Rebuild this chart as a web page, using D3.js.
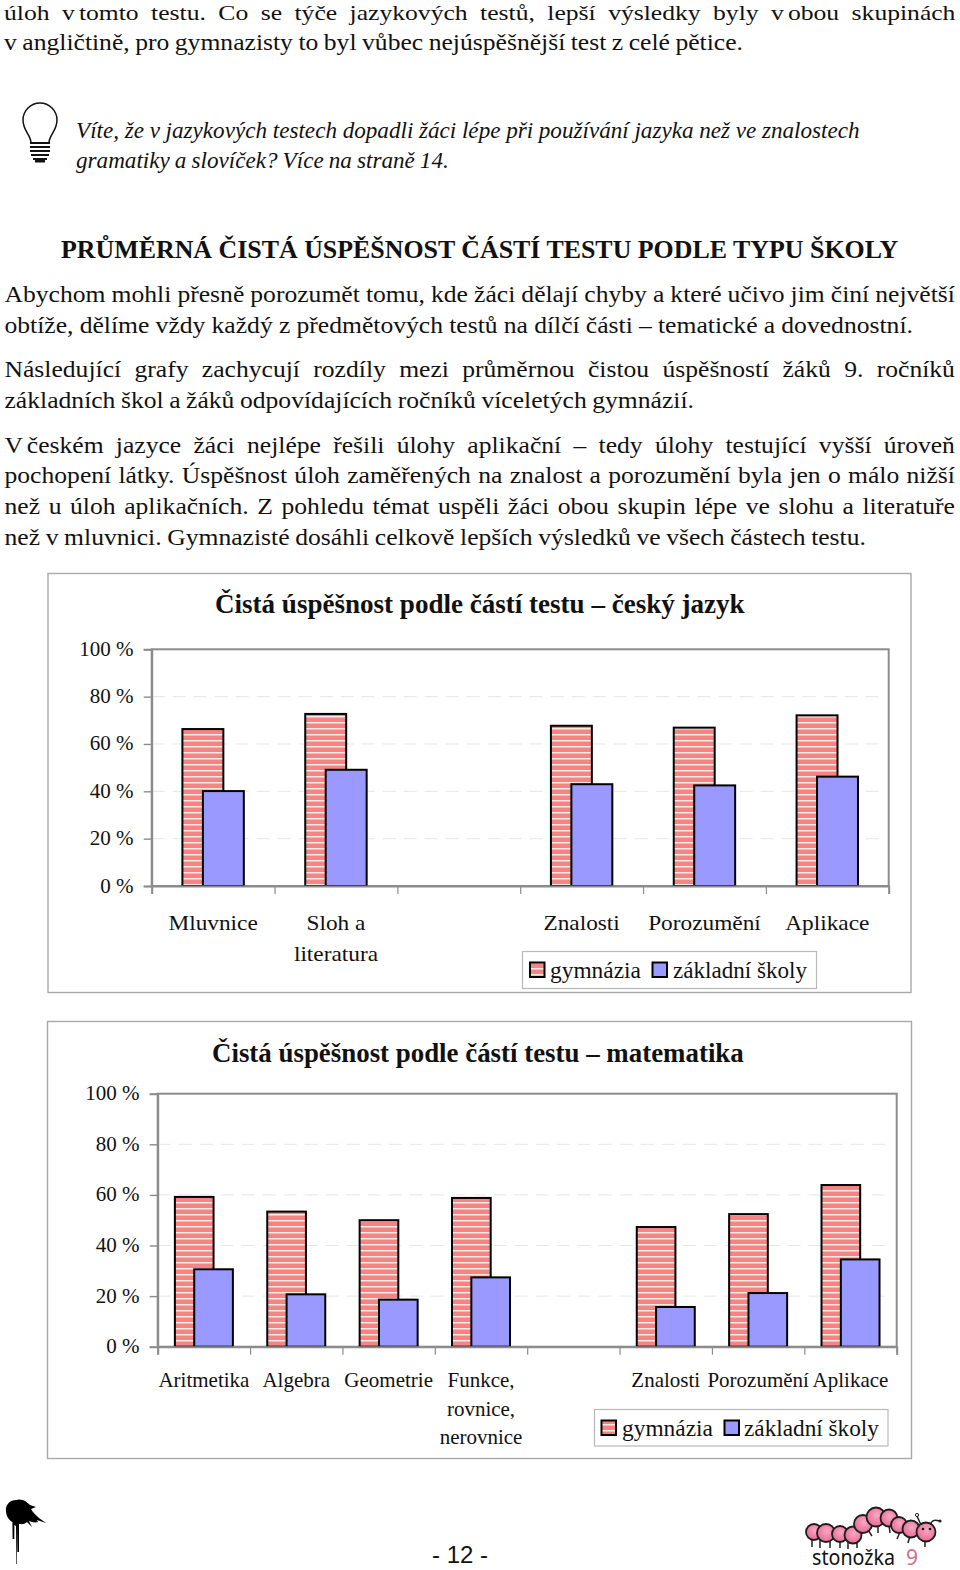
<!DOCTYPE html>
<html><head><meta charset="utf-8">
<script src="https://cdn.jsdelivr.net/npm/d3@7"></script>
<style>html,body{margin:0;padding:0;background:#fff}svg{display:block}text{fill:#111}</style>
</head><body><div id="chart"></div>
<script>
// ---- data ----
const seriesNames = ["gymnázia", "základní školy"];
const yTicks = [0, 20, 40, 60, 80, 100];

const czCategories = ["Mluvnice", "Sloh a\nliteratura", "", "Znalosti", "Porozumění", "Aplikace"];
const czGymnazia   = [66.3, 72.7, null, 67.7, 66.9, 72.1];
const czZakladni   = [40.1, 49.1, null, 43.0, 42.5, 46.2];
const czTitle = "Čistá úspěšnost podle částí testu – český jazyk";

const maCategories = ["Aritmetika", "Algebra", "Geometrie", "Funkce,\nrovnice,\nnerovnice", "", "Znalosti", "Porozumění", "Aplikace"];
const maGymnazia   = [59.2, 53.4, 50.0, 58.8, null, 47.3, 52.4, 63.9];
const maZakladni   = [30.6, 20.7, 18.6, 27.4, null, 15.7, 21.2, 34.5];
const maTitle = "Čistá úspěšnost podle částí testu – matematika";

const bodyLines = [
 "úloh v tomto testu. Co se týče jazykových testů, lepší výsledky byly v obou skupinách",
 "v angličtině, pro gymnazisty to byl vůbec nejúspěšnější test z celé pětice.",
 "Abychom mohli přesně porozumět tomu, kde žáci dělají chyby a které učivo jim činí největší",
 "obtíže, dělíme vždy každý z předmětových testů na dílčí části – tematické a dovednostní.",
 "Následující grafy zachycují rozdíly mezi průměrnou čistou úspěšností žáků 9. ročníků",
 "základních škol a žáků odpovídajících ročníků víceletých gymnázií.",
 "V českém jazyce žáci nejlépe řešili úlohy aplikační – tedy úlohy testující vyšší úroveň",
 "pochopení látky. Úspěšnost úloh zaměřených na znalost a porozumění byla jen o málo nižší",
 "než u úloh aplikačních. Z pohledu témat uspěli žáci obou skupin lépe ve slohu a literatuře",
 "než v mluvnici. Gymnazisté dosáhli celkově lepších výsledků ve všech částech testu."
];
const calloutLines = [
 "Víte, že v jazykových testech dopadli žáci lépe při používání jazyka než ve znalostech",
 "gramatiky a slovíček? Více na straně 14."
];
const headingText = "PRŮMĚRNÁ ČISTÁ ÚSPĚŠNOST ČÁSTÍ TESTU PODLE TYPU ŠKOLY";

// ---- layout (not data) ----
const bodyLayout = [[4,956,19.6,22],[4,743,50,23.5],[4.5,955,302,23.5],[4.5,913,333,23.5],[4.5,955,377,23.5],[4.5,694,408,23.5],[4.5,955,452.5,23.5],[4.5,955,483,23.5],[4.5,955,514,23.5],[4.5,866,545,23.5]];
const calloutLayout = [[76,860,137.5],[76,449,168]];
const SERIF = "'Liberation Serif',serif";

const svg = d3.select("#chart").append("svg").attr("width",960).attr("height",1570).attr("viewBox","0 0 960 1570");
const defs = svg.append("defs");
const pat = defs.append("pattern").attr("id","stripes").attr("patternUnits","userSpaceOnUse").attr("width",8).attr("height",6);
pat.append("rect").attr("width",8).attr("height",6).attr("fill","#f58585");
pat.append("rect").attr("y",2).attr("width",8).attr("height",1.5).attr("fill","#fde8e6");
const grad = defs.append("radialGradient").attr("id","seg").attr("cx","0.55").attr("cy","0.4").attr("r","0.7");
grad.append("stop").attr("offset","0").attr("stop-color","#f9a8c2");
grad.append("stop").attr("offset","1").attr("stop-color","#e4608f");

// Draws one line of text fitted between x0 and x1.
// With a fixed sx the remaining room goes to the word gaps (justified); the one-letter
// preposition "v" stays tight to its word on lines with wide gaps. Without sx the glyphs stretch.
function fit(g, str, x0, x1, y, size, opts={}){
  const t = g.append("text").attr("font-family",opts.family||SERIF).attr("font-size",size)
    .attr("font-weight",opts.weight||400).attr("font-style",opts.style||"normal").attr("xml:space","preserve");
  if(opts.fill) t.style("fill",opts.fill);
  t.text(str);
  let sx;
  if(opts.sx){
    sx = opts.sx;
    const w0 = t.node().getComputedTextLength();
    const gaps0 = str.split(" ").length-1;
    const ws0 = gaps0 ? ((x1-x0)/sx - w0)/gaps0 : 0;
    if(ws0 > 3 && /(^|\s)[vV] /.test(str)){
      t.text(null);
      const parts = str.split(/(?<=^|\s)([vV] )/).filter(s=>s.length);
      parts.forEach(p=>{
        const sp = t.append("tspan").text(p);
        if(/^[vV] $/.test(p)) sp.attr("word-spacing",-2).attr("class","tight");
      });
      const w = t.node().getComputedTextLength();
      const gaps = gaps0 - t.selectAll("tspan.tight").size();
      const ws = ((x1-x0)/sx - w)/gaps;
      t.selectAll("tspan").filter(function(){return !this.classList.contains("tight");}).attr("word-spacing",ws);
    } else if(gaps0){
      t.attr("word-spacing",ws0);
    }
  } else {
    sx = (x1-x0)/t.node().getComputedTextLength();
  }
  t.attr("transform",`translate(${x0},${y}) scale(${sx},1)`);
  return t;
}

// prose
const prose = svg.append("g");
bodyLines.forEach((s,i)=>{const [a,b,y,sz]=bodyLayout[i]; fit(prose,s,a,b,y,sz,{sx:1.09*23.5/sz});});
calloutLines.forEach((s,i)=>{const [a,b,y]=calloutLayout[i]; fit(prose,s,a,b,y,23.5,{sx:0.985,style:"italic"});});
fit(prose,headingText,61,899,258,25.5,{weight:700});

// bulb
const bulb = svg.append("g").attr("fill","none").attr("stroke","#111").attr("stroke-width",1.5);
bulb.append("path").attr("d","M31,143 C31,135 23,131 23,120 A17,17 0 1 1 57,120 C57,131 49,135 49,143 Z").attr("fill","#fff");
bulb.append("path").attr("d","M30,143 H50 M30,147 H50 M30,151 H50 M31,155 H49 M33,159 H47").attr("stroke-width",2);
bulb.append("path").attr("d","M35,161 H45").attr("stroke-width",3);

// charts
function drawChart(cfg){
  const {frame,plot,cats,gym,zak,title,titleBox,padding,ySize,catSize,catSx,lineYs,legend,yRight,yDy} = cfg;
  const g = svg.append("g");
  g.append("rect").attr("x",frame[0]).attr("y",frame[1]).attr("width",frame[2]-frame[0]).attr("height",frame[3]-frame[1])
    .attr("fill","#fff").attr("stroke","#a8a8a8").attr("stroke-width",1.4);
  fit(g,title,titleBox[0],titleBox[1],titleBox[2],26.5,{weight:700});

  const y = d3.scaleLinear().domain([0,100]).range([plot[3],plot[1]]);
  const x = d3.scaleBand().domain(cats).range([plot[0],plot[2]]).paddingInner(padding).paddingOuter(padding/2);
  const edge = d3.scaleLinear().domain([0,cats.length]).range([plot[0],plot[2]]);
  const barW = x.bandwidth()/1.5;

  // gridlines
  g.append("g").selectAll("line").data(yTicks.filter(d=>d>0&&d<100)).join("line")
    .attr("x1",plot[0]).attr("x2",plot[2]-4).attr("y1",y).attr("y2",y)
    .attr("stroke","#e6e6e6").attr("stroke-width",1).attr("stroke-dasharray","13 8");

  // plot border
  g.append("rect").attr("x",plot[0]).attr("y",plot[1]).attr("width",plot[2]-plot[0]).attr("height",plot[3]-plot[1])
    .attr("fill","none").attr("stroke","#8c8c8c").attr("stroke-width",2);

  // bars
  const rows = cats.map((c,i)=>({c,g:gym[i],z:zak[i]})).filter(d=>d.g!=null);
  g.append("g").selectAll("rect").data(rows).join("rect")
    .attr("x",d=>x(d.c)).attr("width",barW).attr("y",d=>y(d.g)).attr("height",d=>y(0)-y(d.g))
    .attr("fill","url(#stripes)").attr("stroke","#000").attr("stroke-width",2);
  g.append("g").selectAll("rect").data(rows).join("rect")
    .attr("x",d=>x(d.c)+barW/2).attr("width",barW).attr("y",d=>y(d.z)).attr("height",d=>y(0)-y(d.z))
    .attr("fill","#9999ff").attr("stroke","#000").attr("stroke-width",2);

  // axes
  const yAxis = g.append("g").attr("transform",`translate(${plot[0]},0)`)
    .call(d3.axisLeft(y).tickValues(yTicks).tickSize(8).tickFormat(d=>d+" %"));
  yAxis.select(".domain").attr("stroke","#8c8c8c").attr("stroke-width",2);
  yAxis.selectAll("line").attr("stroke","#8c8c8c").attr("stroke-width",1.4);
  yAxis.selectAll("text").attr("font-family",SERIF).attr("font-size",ySize).attr("x",yRight-plot[0]).attr("dy",yDy);

  const xAxis = g.append("g").attr("transform",`translate(0,${plot[3]})`)
    .call(d3.axisBottom(edge).ticks(cats.length).tickSize(8).tickFormat(""));
  xAxis.select(".domain").attr("stroke","#8c8c8c").attr("stroke-width",2);
  xAxis.selectAll("line").attr("stroke","#8c8c8c").attr("stroke-width",1.2);

  // category labels
  cats.forEach(c=>{
    if(!c) return;
    const cx = x(c)+x.bandwidth()/2;
    c.split("\n").forEach((ln,i)=>{
      g.append("text").text(ln).attr("font-family",SERIF).attr("font-size",catSize).attr("text-anchor","middle")
        .attr("transform",`translate(${cx},${lineYs[i]}) scale(${catSx},1)`);
    });
  });

  // legend
  const L = legend;
  g.append("rect").attr("x",L.box[0]).attr("y",L.box[1]).attr("width",L.box[2]-L.box[0]).attr("height",L.box[3]-L.box[1])
    .attr("fill","#fff").attr("stroke","#b8b8b8").attr("stroke-width",1.2);
  seriesNames.forEach((n,i)=>{
    g.append("rect").attr("x",L.sw[i]).attr("y",L.swY).attr("width",14.5).attr("height",14.5)
      .attr("fill",i?"#9999ff":"url(#stripes)").attr("stroke","#000").attr("stroke-width",2);
    fit(g,n,L.txt[i][0],L.txt[i][1],L.base,23);
  });
}

drawChart({frame:[48,573.5,911,992.5],plot:[151.7,649.3,888.7,886],cats:czCategories,gym:czGymnazia,zak:czZakladni,
  title:czTitle,titleBox:[215,745,612.5],padding:0.5,ySize:21,catSize:22,catSx:1.06,lineYs:[930,961],yRight:133.5,yDy:6,
  legend:{box:[522.5,951.5,816.5,988.5],sw:[530,652.5],swY:962.5,txt:[[550,641],[673,807]],base:977.5}});

drawChart({frame:[47.5,1021.5,911.5,1458.5],plot:[157.7,1093.7,896.7,1346.7],cats:maCategories,gym:maGymnazia,zak:maZakladni,
  title:maTitle,titleBox:[212,744,1061.5],padding:0.372,ySize:21,catSize:20,catSx:1.05,lineYs:[1387,1416,1444],yRight:139.5,yDy:6,
  legend:{box:[594.5,1409.5,888,1446],sw:[601.5,724.5],swY:1420.5,txt:[[622,713],[744,879]],base:1435.5}});

// footer
const foot = svg.append("g");
fit(foot,"- 12 -",432,488,1563,24,{family:"'Liberation Sans',sans-serif"});

// ink splat
foot.append("path").attr("fill","#000").attr("d","M6,1511 C5,1505 10,1500 16,1500 C22,1498 27,1502 30,1505 L36,1507 L31,1509 C33,1513 37,1516 39,1518 L46,1523 L37,1520 L38,1522 C34,1523 32,1522 29,1521 L32,1527 L27,1522 C24,1525 21,1524 19,1524 L19,1552 L17.4,1552 L17,1526 L16.9,1564 L16.3,1564 L16,1526 L14.4,1525 L14.3,1539 L12.6,1539 L12.4,1522 C9,1520 6,1516 6,1511 Z");

// caterpillar logo
const seg = [[814,1532,8],[826,1533,9],[840,1534,8],[853,1535,8.5],[863,1524,9],[876,1517,9.5],[889,1518,8.5],[899,1525,8],[911,1529,8.5],[926,1532,9.5]];
const logo = foot.append("g");
logo.append("path").attr("fill","none").attr("stroke","#222").attr("stroke-width",1.5)
  .attr("d","M812,1538 V1547 M820,1540 V1548 M830,1541 V1548 M840,1541 V1548 M848,1542 V1549 M857,1542 V1548 M868,1530 L872,1536 M878,1525 V1533 M889,1525 L890,1533 M900,1532 L897,1539 M910,1536 L908,1543 M925,1540 V1547 M921,1525 L917,1516 M930,1525 C932,1519 936,1520 940,1521");
logo.selectAll("circle").data(seg).join("circle").attr("cx",d=>d[0]).attr("cy",d=>d[1]).attr("r",d=>d[2])
  .attr("fill","url(#seg)").attr("stroke","#1c1c1c").attr("stroke-width",1.8);
logo.append("circle").attr("cx",923).attr("cy",1529).attr("r",1.3).attr("fill","#000");
logo.append("circle").attr("cx",930).attr("cy",1529).attr("r",1.3).attr("fill","#000");
logo.append("circle").attr("cx",917).attr("cy",1515).attr("r",1.6).attr("fill","none").attr("stroke","#222");
logo.append("circle").attr("cx",940).attr("cy",1521).attr("r",1.6).attr("fill","#222");
fit(foot,"stonožka",812,895,1565,21,{family:"'Noto Sans',sans-serif"});
fit(foot,"9",906,918,1565,22,{family:"'Noto Sans',sans-serif",fill:"#cf6d8e"});
</script>
</body></html>
